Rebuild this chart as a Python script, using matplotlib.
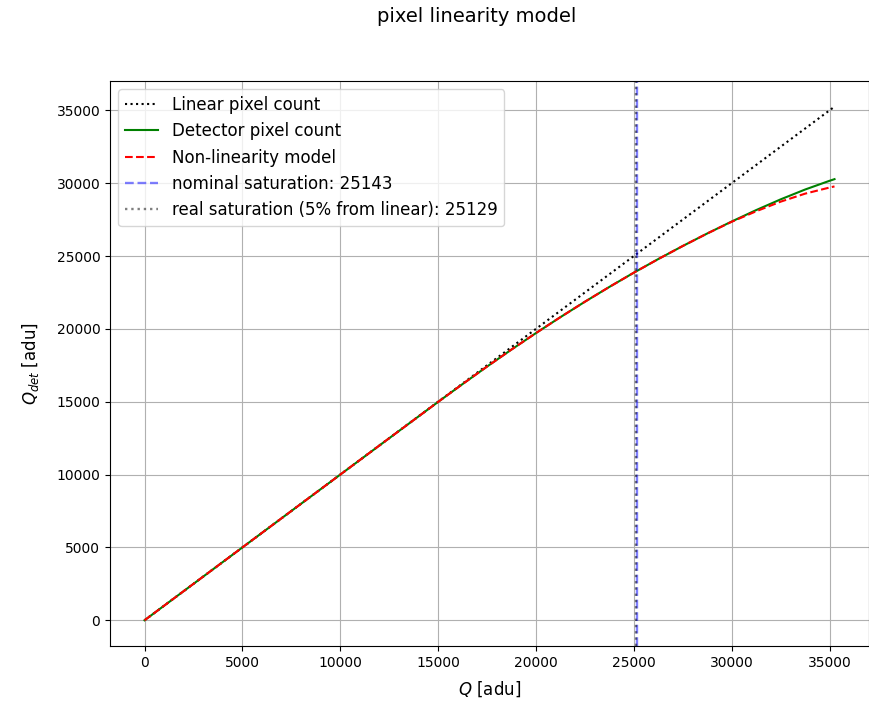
import matplotlib
matplotlib.use("Agg")
import matplotlib.pyplot as plt

# values
q = [0, 2500, 5000, 7500, 10000, 12500, 15000, 16250, 17500, 18750, 20000, 21250, 22500,
     23750, 25000, 26250, 27500, 28750, 30000, 31250, 32500, 33750, 35000, 35250]
linear = [0, 2500, 5000, 7500, 10000, 12500, 15000, 16250, 17500, 18750, 20000, 21250, 22500,
          23750, 25000, 26250, 27500, 28750, 30000, 31250, 32500, 33750, 35000, 35250]
detector = [0, 2500, 5000, 7500, 9998, 12495, 14988, 16213, 17413, 18582, 19713, 20807, 21863,
            22880, 23857, 24793, 25688, 26546, 27369, 28152, 28888, 29563, 30163, 30274]
model = [0, 2500, 5000, 7500, 9998, 12495, 14988, 16213, 17413, 18582, 19713, 20807, 21863,
         22880, 23857, 24793, 25688, 26546, 27350, 28070, 28730, 29280, 29700, 29775]
nominal_sat = 25143
real_sat = 25129

fig = plt.figure(figsize=(8.69, 7.01), dpi=100)
ax = fig.add_axes([0.1266, 0.0785, 0.8734, 0.806])

ax.plot(q, linear, 'k:', label="Linear pixel count")
ax.plot(q, detector, 'g-', label="Detector pixel count")
ax.plot(q, model, 'r--', label="Non-linearity model")
ax.axvline(nominal_sat, color='b', ls='--', alpha=0.5, lw=1.7, label=f"nominal saturation: {nominal_sat}")
ax.axvline(real_sat, color='k', ls=':', alpha=0.5, lw=1.7, label=f"real saturation (5% from linear): {real_sat}")

ax.set_xlabel("$Q$ [adu]", fontsize=12, labelpad=7)
ax.set_ylabel("$Q_{det}$ [adu]", fontsize=12, labelpad=11)
ax.grid(True)
ax.legend(loc='upper left', fontsize=12)

fig.text(0.548, 1 - 17 / 701, "pixel linearity model", ha='center', va='center', fontsize=14)

fig.savefig("out.png", dpi=100)
